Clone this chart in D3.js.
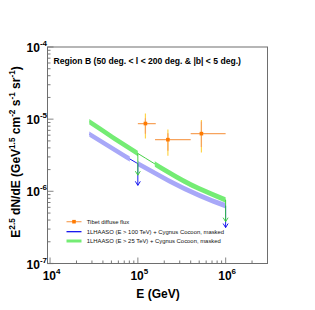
<!DOCTYPE html>
<html lang="en">
<head>
  <meta charset="UTF-8">
  <title>Region B diffuse flux</title>
  <script src="https://d3js.org/d3.v7.min.js"></script>
  <style>
    body { margin: 0; background: #fff; }
    svg { font-family: "Liberation Sans", Arial, sans-serif; }
    .bold { font-weight: bold; }
  </style>
</head>
<body>
  <script>
    // Tibet diffuse flux points (GeV, GeV^1.5 cm^-2 s^-1 sr^-1)
    const tibetE = [1.22e5, 2.2e5, 5.3e5];
    const tibetFlux = [8.7e-6, 5.2e-6, 6.3e-6];
    const tibetElo = [1.0e5, 1.57e5, 4.0e5];
    const tibetEhi = [1.6e5, 4.0e5, 1.0e6];
    const tibetStatLo = [6.3e-6, 3.65e-6, 4.1e-6];
    const tibetStatHi = [1.03e-5, 6.4e-6, 9.3e-6];
    const tibetSysLo = [5.4e-6, 3.1e-6, 3.44e-6];
    const tibetSysHi = [1.2e-5, 7.2e-6, 9.7e-6];

    // 1LHAASO bands
    const bandE = [2.8e4, 1.0e5, 5.0e5, 1.0e6];
    const blueFlux = [6.2e-6, 2.42e-6, 8.8e-7, 6.3e-7];   // E > 100 TeV
    const greenFlux = [9.2e-6, 3.35e-6, 1.09e-6, 7.6e-7]; // E > 25 TeV
    const blueGap = [8.1e4, 1.0e5];
    const greenGap = [1.0e5, 1.56e5];
    const ulE = [1.0e5, 1.0e6]; // upper-limit arrows

    const xTicks = [1e4, 1e5, 1e6];
    const xTickExp = ['4', '5', '6'];
    const yTicks = [1e-7, 1e-6, 1e-5, 1e-4];
    const yTickExp = ['-7', '-6', '-5', '-4'];

    const legendLabels = [
      'Tibet diffuse flux',
      '1LHAASO (E > 100 TeV) + Cygnus Cocoon, masked',
      '1LHAASO (E > 25 TeV) + Cygnus Cocoon, masked'
    ];

    const W = 315, H = 310;
    const mL = 47.5, mR = 267.5, mT = 47, mB = 263.5;

    const x = d3.scaleLog().domain([9.35e3, 3.0e6]).range([mL, mR]);
    const y = d3.scaleLog().domain([1e-7, 1e-4]).range([mB, mT]);

    const svg = d3.select('body').append('svg')
      .attr('width', W)
      .attr('height', H);

    const orange = '#ff7a00';
    const orangeLight = '#f7a35c';
    const yellow = '#ffd54a';
    const blue = '#0000ee';
    const blueBand = '#a8a8f8';
    const green = '#33cc33';
    const greenBand = '#74ec74';

    // clip to frame
    svg.append('clipPath').attr('id', 'frame')
      .append('rect')
      .attr('x', mL).attr('y', mT)
      .attr('width', mR - mL).attr('height', mB - mT);

    const plot = svg.append('g').attr('clip-path', 'url(#frame)');

    function bandData(flux) {
      return bandE.map((e, i) => ({ e: e, f: flux[i] }));
    }

    const bw = 1.09; // band half width factor
    const area = d3.area()
      .x(d => x(d.e))
      .y0(d => y(d.f / bw))
      .y1(d => y(d.f * bw))
      .curve(d3.curveMonotoneX);
    const line = d3.line()
      .x(d => x(d.e))
      .y(d => y(d.f))
      .curve(d3.curveMonotoneX);

    // clip paths that leave a gap in each band
    function gapClip(id, gap) {
      const cp = svg.append('clipPath').attr('id', id);
      cp.append('rect').attr('x', 0).attr('y', 0)
        .attr('width', x(gap[0])).attr('height', H);
      cp.append('rect').attr('x', x(gap[1])).attr('y', 0)
        .attr('width', W - x(gap[1])).attr('height', H);
    }
    gapClip('blueGap', blueGap);
    gapClip('greenGap', greenGap);

    const series = [
      { flux: blueFlux, line: blue, band: blueBand, clip: 'blueGap' },
      { flux: greenFlux, line: green, band: greenBand, clip: 'greenGap' }
    ];

    series.forEach(s => {
      const data = bandData(s.flux);
      plot.append('path')
        .attr('d', line(data))
        .attr('fill', 'none')
        .attr('stroke', s.line)
        .attr('stroke-width', 0.9);
      plot.append('g').attr('clip-path', `url(#${s.clip})`)
        .append('path')
        .attr('d', area(data))
        .attr('fill', s.band)
        .attr('stroke', 'none');
    });

    // upper limit arrows
    series.forEach(s => {
      ulE.forEach(e => {
        const i = bandE.indexOf(e);
        const f = s.flux[i];
        const x0 = x(e), y0 = y(f), y1 = y(f / 2);
        plot.append('line')
          .attr('x1', x0).attr('x2', x0)
          .attr('y1', y0).attr('y2', y1)
          .attr('stroke', s.line).attr('stroke-width', 0.9);
        plot.append('path')
          .attr('d', `M${x0 - 2.5},${y1 - 4}L${x0},${y1}L${x0 + 2.5},${y1 - 4}`)
          .attr('fill', 'none')
          .attr('stroke', s.line).attr('stroke-width', 0.9);
      });
    });

    // Tibet points
    const tibet = tibetE.map((e, i) => ({
      e: e, f: tibetFlux[i], elo: tibetElo[i], ehi: tibetEhi[i],
      slo: tibetStatLo[i], shi: tibetStatHi[i],
      ylo: tibetSysLo[i], yhi: tibetSysHi[i]
    }));
    const tg = plot.append('g');
    tg.selectAll('line.sys').data(tibet).join('line')
      .attr('x1', d => x(d.e)).attr('x2', d => x(d.e))
      .attr('y1', d => y(d.ylo)).attr('y2', d => y(d.yhi))
      .attr('stroke', yellow).attr('stroke-width', 1.2);
    tg.selectAll('line.stat').data(tibet).join('line')
      .attr('x1', d => x(d.e)).attr('x2', d => x(d.e))
      .attr('y1', d => y(d.slo)).attr('y2', d => y(d.shi))
      .attr('stroke', orangeLight).attr('stroke-width', 1.2);
    tg.selectAll('line.xerr').data(tibet).join('line')
      .attr('x1', d => x(d.elo)).attr('x2', d => x(d.ehi))
      .attr('y1', d => y(d.f)).attr('y2', d => y(d.f))
      .attr('stroke', orangeLight).attr('stroke-width', 1.2);
    tg.selectAll('rect').data(tibet).join('rect')
      .attr('x', d => x(d.e) - 1.8).attr('y', d => y(d.f) - 1.8)
      .attr('width', 3.6).attr('height', 3.6)
      .attr('fill', orange);

    // ticks
    const frameColor = '#6e6e6e';
    const yMinor = y.ticks().filter(t => !yTicks.includes(t));
    const xMinor = x.ticks().filter(t => !xTicks.includes(t) && t > x.domain()[0]);

    svg.append('g').selectAll('line').data(yMinor).join('line')
      .attr('x1', mL).attr('x2', mL + 3)
      .attr('y1', d => y(d)).attr('y2', d => y(d))
      .attr('stroke', '#555').attr('stroke-width', 0.8);
    svg.append('g').selectAll('line').data(yTicks).join('line')
      .attr('x1', mL).attr('x2', mL + 6)
      .attr('y1', d => y(d)).attr('y2', d => y(d))
      .attr('stroke', '#999').attr('stroke-width', 1.2);
    svg.append('g').selectAll('line').data(xMinor).join('line')
      .attr('x1', d => x(d)).attr('x2', d => x(d))
      .attr('y1', mB).attr('y2', mB - 3)
      .attr('stroke', '#555').attr('stroke-width', 0.8);
    svg.append('g').selectAll('line').data(xTicks).join('line')
      .attr('x1', d => x(d)).attr('x2', d => x(d))
      .attr('y1', mB).attr('y2', mB - 6)
      .attr('stroke', '#999').attr('stroke-width', 1.2);

    // frame
    svg.append('rect')
      .attr('x', mL).attr('y', mT)
      .attr('width', mR - mL).attr('height', mB - mT)
      .attr('fill', 'none')
      .attr('stroke', frameColor).attr('stroke-width', 1);

    // tick labels
    const xl = svg.append('g').attr('class', 'bold');
    xTicks.forEach((t, i) => {
      const txt = xl.append('text')
        .attr('x', x(t) + 1.5).attr('y', mB + 16)
        .attr('text-anchor', 'middle')
        .attr('font-size', 12);
      txt.append('tspan').text('10');
      txt.append('tspan').attr('font-size', 8).attr('dy', -6).text(xTickExp[i]);
    });
    const yl = svg.append('g').attr('class', 'bold');
    yTicks.forEach((t, i) => {
      const txt = yl.append('text')
        .attr('x', mL - 0.5).attr('y', y(t) + 5)
        .attr('text-anchor', 'end')
        .attr('font-size', 12);
      txt.append('tspan').text('10');
      txt.append('tspan').attr('font-size', 8).attr('dy', -6).text(yTickExp[i]);
    });

    // axis titles
    svg.append('text')
      .attr('class', 'bold')
      .attr('x', 158).attr('y', 298)
      .attr('text-anchor', 'middle')
      .attr('font-size', 12)
      .text('E (GeV)');

    const yt = svg.append('text')
      .attr('class', 'bold')
      .attr('transform', 'translate(20,152) rotate(-90)')
      .attr('text-anchor', 'middle')
      .attr('font-size', 12);
    const ySeg = [['E', 0], ['2.5', 1], [' dN/dE (GeV', 0], ['1.5', 1], [' cm', 0], ['-2', 1],
      [' s', 0], ['-1', 1], [' sr', 0], ['-1', 1], [')', 0]];
    let up = false;
    ySeg.forEach(([s, sup]) => {
      const ts = yt.append('tspan').text(s);
      if (sup) { ts.attr('font-size', 8.2).attr('dy', up ? 0 : -5); up = true; }
      else { ts.attr('dy', up ? 5 : 0); up = false; }
    });

    // title
    svg.append('text')
      .attr('class', 'bold')
      .attr('x', 53.5).attr('y', 63.5)
      .attr('font-size', 8.6)
      .text('Region B (50 deg. < l < 200 deg. & |b| < 5 deg.)');

    // legend
    const lg = svg.append('g');
    const ly = [221.7, 231.7, 241];
    lg.append('line').attr('x1', 66.5).attr('x2', 81.5)
      .attr('y1', ly[0]).attr('y2', ly[0])
      .attr('stroke', orangeLight).attr('stroke-width', 1.2);
    lg.append('rect').attr('x', 72.2).attr('y', ly[0] - 1.8)
      .attr('width', 3.6).attr('height', 3.6).attr('fill', orange);
    lg.append('line').attr('x1', 66.5).attr('x2', 81.5)
      .attr('y1', ly[1]).attr('y2', ly[1])
      .attr('stroke', blue).attr('stroke-width', 1.2);
    lg.append('line').attr('x1', 66.5).attr('x2', 81.5)
      .attr('y1', ly[2]).attr('y2', ly[2])
      .attr('stroke', greenBand).attr('stroke-width', 3);
    legendLabels.forEach((t, i) => {
      lg.append('text')
        .attr('x', 86.7).attr('y', ly[i] + 2)
        .attr('font-size', 5.9)
        .attr('fill', '#111')
        .text(t);
    });
  </script>
</body>
</html>
